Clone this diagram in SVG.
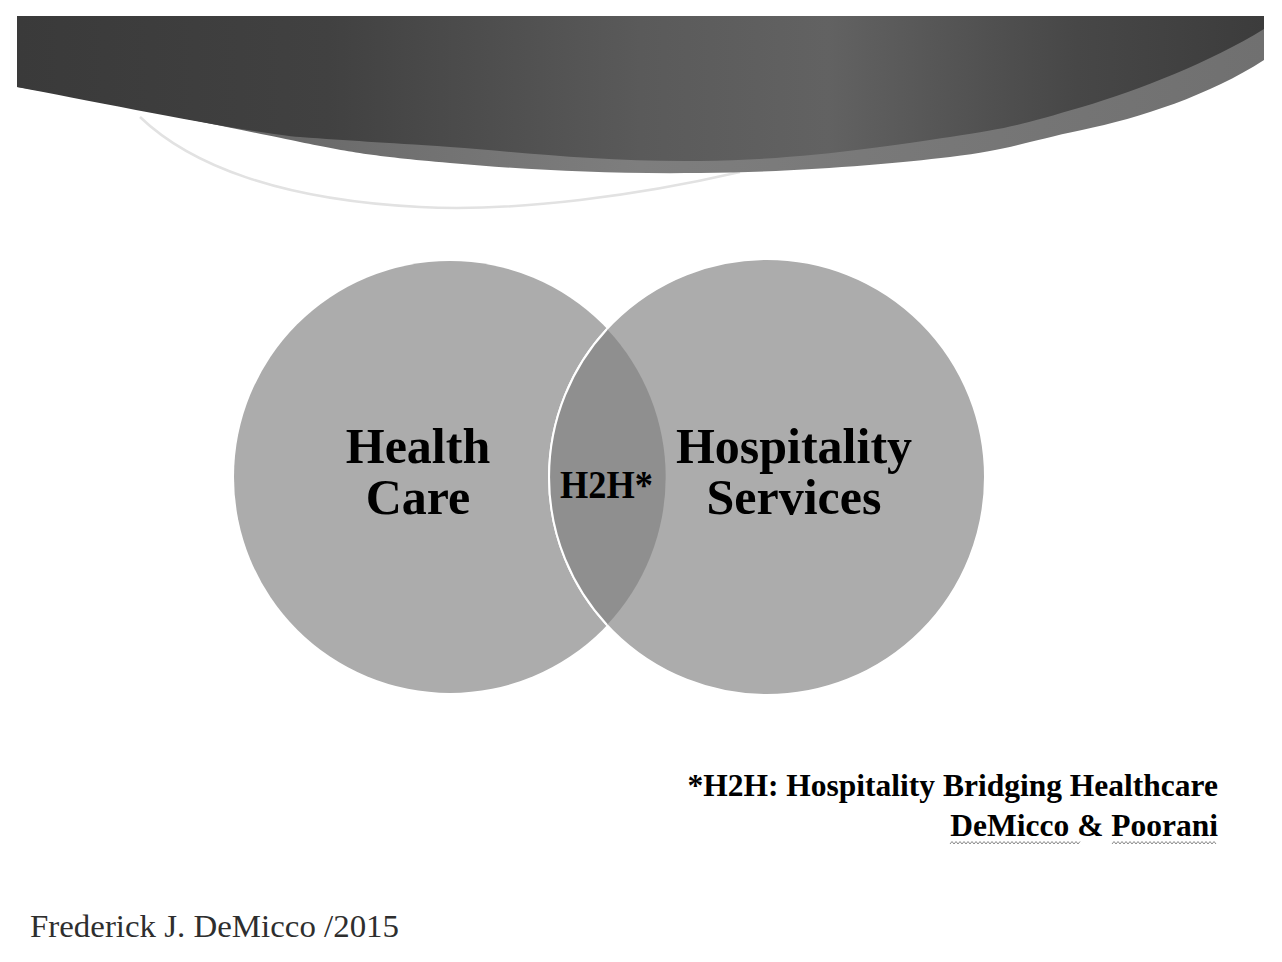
<svg xmlns="http://www.w3.org/2000/svg" width="1282" height="962" viewBox="0 0 1282 962">
  <defs>
    <linearGradient id="darkGrad" x1="17" y1="0" x2="1264" y2="0" gradientUnits="userSpaceOnUse">
      <stop offset="0" stop-color="#3a3a3a"/>
      <stop offset="0.25" stop-color="#414141"/>
      <stop offset="0.5" stop-color="#5a5a5a"/>
      <stop offset="0.65" stop-color="#626262"/>
      <stop offset="0.85" stop-color="#474747"/>
      <stop offset="1" stop-color="#3c3c3c"/>
    </linearGradient>
    <linearGradient id="bandGrad" x1="17" y1="0" x2="1264" y2="0" gradientUnits="userSpaceOnUse">
      <stop offset="0" stop-color="#5a5a5a"/>
      <stop offset="0.5" stop-color="#7e7e7e"/>
      <stop offset="1" stop-color="#707070"/>
    </linearGradient>
  </defs>
  <style>
    .big { font-family: "Liberation Serif", "Times New Roman", serif; font-weight: bold; font-size: 50px; fill: #000; text-anchor: middle; }
    .mid { font-family: "Liberation Serif", "Times New Roman", serif; font-weight: bold; font-size: 39px; fill: #000; }
    .note { font-family: "Liberation Serif", "Times New Roman", serif; font-weight: bold; font-size: 31.5px; fill: #000; text-anchor: end; }
    .foot { font-family: "Liberation Serif", "Times New Roman", serif; font-size: 31px; fill: #2e2e2e; }
    .circle { fill: #acacac; }
    .lens { fill: #8f8f8f; }
    .wavy { fill: none; stroke: #8a8a8a; stroke-width: 1; }
  </style>
  <rect x="0" y="0" width="1282" height="962" fill="#ffffff"/>

  <g id="banner">
    <path d="M140,117 C190,165 280,200 420,207 C520,212 640,195 740,172" fill="none" stroke="#e2e2e2" stroke-width="2.5"/>
    <path d="M17,16 H1264 V60 C1210,95 1140,118 1082,130 S1010,150 950,157 S800,172 700,173 S530,170 450,163 S350,152 300,142 S100,100 17,87 Z" fill="url(#bandGrad)"/>
    <path d="M17,16 H1264 V29 C1210,62 1140,90 1082,107 S1010,128 950,137 S800,160 700,161 S520,152 450,147 S350,141 300,137 S100,103 17,87 Z" fill="url(#darkGrad)"/>
  </g>

  <g id="node-health-care">
    <circle class="circle" cx="450" cy="477" r="216"/>
    <text class="big" x="418" y="463">Health</text>
    <text class="big" x="418" y="514">Care</text>
  </g>

  <g id="node-hospitality-services">
    <circle class="circle" cx="767" cy="477" r="218" stroke="#ffffff" stroke-width="2"/>
  </g>

  <g id="node-h2h">
    <path class="lens" d="M607,329 A216,216 0 0 1 607,625 A218,218 0 0 1 607,329 Z"/>
    <path d="M607,625 A218,218 0 0 1 607,329" fill="none" stroke="#ffffff" stroke-width="2"/>
    <text class="mid" x="560" y="498" textLength="93" lengthAdjust="spacingAndGlyphs">H2H*</text>
  </g>

  <g id="node-hospitality-label">
    <text class="big" x="794" y="463">Hospitality</text>
    <text class="big" x="794" y="514">Services</text>
  </g>

  <g id="footnote">
    <text class="note" x="1218" y="796">*H2H: Hospitality Bridging Healthcare</text>
    <text class="note" x="1218" y="836">DeMicco &amp; Poorani</text>
    <path class="wavy" d="M950,844 l2,-2.5 l2,2.5 l2,-2.5 l2,2.5 l2,-2.5 l2,2.5 l2,-2.5 l2,2.5 l2,-2.5 l2,2.5 l2,-2.5 l2,2.5 l2,-2.5 l2,2.5 l2,-2.5 l2,2.5 l2,-2.5 l2,2.5 l2,-2.5 l2,2.5 l2,-2.5 l2,2.5 l2,-2.5 l2,2.5 l2,-2.5 l2,2.5 l2,-2.5 l2,2.5 l2,-2.5 l2,2.5 l2,-2.5 l2,2.5 l2,-2.5 l2,2.5 l2,-2.5 l2,2.5 l2,-2.5 l2,2.5 l2,-2.5 l2,2.5 l2,-2.5 l2,2.5 l2,-2.5 l2,2.5 l2,-2.5 l2,2.5 l2,-2.5 l2,2.5 l2,-2.5 l2,2.5 l2,-2.5 l2,2.5 l2,-2.5 l2,2.5 l2,-2.5 l2,2.5 l2,-2.5 l2,2.5 l2,-2.5 l2,2.5 l2,-2.5 l2,2.5 l2,-2.5 l2,2.5 l2,-2.5"/>
    <path class="wavy" d="M1112,844 l2,-2.5 l2,2.5 l2,-2.5 l2,2.5 l2,-2.5 l2,2.5 l2,-2.5 l2,2.5 l2,-2.5 l2,2.5 l2,-2.5 l2,2.5 l2,-2.5 l2,2.5 l2,-2.5 l2,2.5 l2,-2.5 l2,2.5 l2,-2.5 l2,2.5 l2,-2.5 l2,2.5 l2,-2.5 l2,2.5 l2,-2.5 l2,2.5 l2,-2.5 l2,2.5 l2,-2.5 l2,2.5 l2,-2.5 l2,2.5 l2,-2.5 l2,2.5 l2,-2.5 l2,2.5 l2,-2.5 l2,2.5 l2,-2.5 l2,2.5 l2,-2.5 l2,2.5 l2,-2.5 l2,2.5 l2,-2.5 l2,2.5 l2,-2.5 l2,2.5 l2,-2.5 l2,2.5 l2,-2.5 l2,2.5"/>
  </g>

  <g id="footer">
    <text class="foot" x="30" y="937" textLength="369" lengthAdjust="spacingAndGlyphs">Frederick J. DeMicco /2015</text>
  </g>
</svg>
